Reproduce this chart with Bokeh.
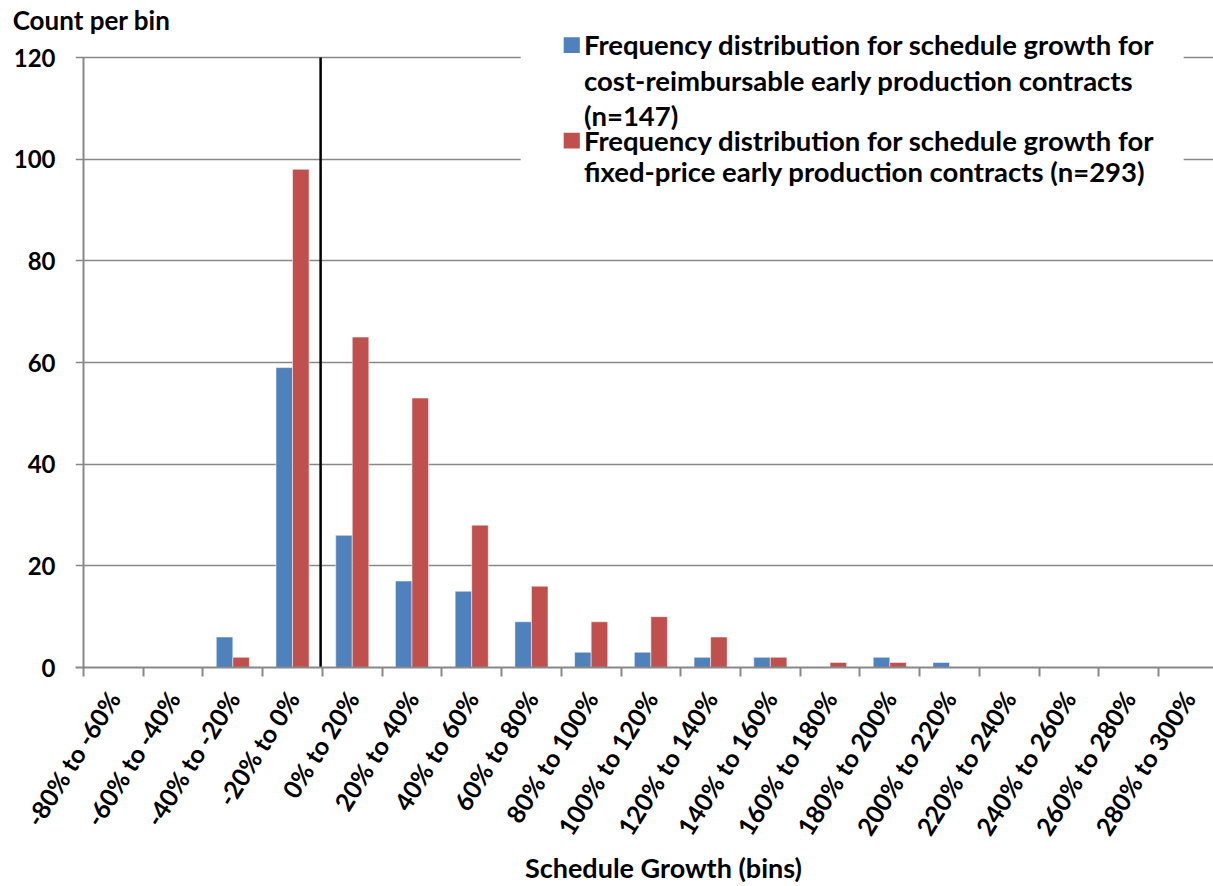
import numpy as np
from bokeh.plotting import figure
from bokeh.models import FixedTicker, LinearAxis, Range1d
from bokeh.core.properties import value
from bokeh.embed import file_html
from bokeh.resources import INLINE

bins = ["-80% to -60%", "-60% to -40%", "-40% to -20%", "-20% to 0%", "0% to 20%",
        "20% to 40%", "40% to 60%", "60% to 80%", "80% to 100%", "100% to 120%",
        "120% to 140%", "140% to 160%", "160% to 180%", "180% to 200%", "200% to 220%",
        "220% to 240%", "240% to 260%", "260% to 280%", "280% to 300%"]
cost_reimbursable = [0, 0, 6, 59, 26, 17, 15, 9, 3, 3, 2, 2, 0, 2, 1, 0, 0, 0, 0]
fixed_price = [0, 0, 2, 98, 65, 53, 28, 16, 9, 10, 6, 2, 1, 1, 0, 0, 0, 0, 0]
y_ticks = [0, 20, 40, 60, 80, 100, 120]
y_title = "Count per bin"
x_title = "Schedule Growth (bins)"
legend_cost = ["Frequency distribution for schedule growth for",
               "cost-reimbursable early production contracts",
               "(n=147)"]
legend_fixed = ["Frequency distribution for schedule growth for",
                "fixed-price early production contracts (n=293)"]
zero_line_x = 3.97  # boundary between "-20% to 0%" and "0% to 20%"

BLUE = "#4F81BD"
RED = "#C0504D"
GRID = "#888888"
FONT = "Lato"

W, H = 1213, 886
TOP = 33
n = len(bins)
centers = np.arange(n) + 0.5
bar_w = 0.277

p = figure(width=W, height=H, output_backend="svg", toolbar_location=None,
           x_range=Range1d(-0.134, 18.92), y_range=Range1d(0, (667 - TOP) / 5.0833),
           min_border_left=75, min_border_right=0, min_border_top=TOP,
           min_border_bottom=219)
p.outline_line_color = None
p.background_fill_color = "white"
p.border_fill_color = "white"

# grid
p.xgrid.visible = False
p.ygrid.grid_line_color = GRID
p.ygrid.grid_line_width = 1.5

# y axis
p.yaxis.ticker = FixedTicker(ticks=y_ticks)
p.yaxis.axis_line_color = None
p.yaxis.major_tick_line_color = None
p.yaxis.minor_tick_line_color = None
p.yaxis.major_tick_out = 0
p.yaxis.major_tick_in = 0
p.yaxis.major_label_standoff = 20
p.yaxis.major_label_text_font = FONT
p.yaxis.major_label_text_font_style = "bold"
p.yaxis.major_label_text_font_size = "24px"
p.yaxis.major_label_text_color = "black"

# x axis
p.xaxis.ticker = FixedTicker(ticks=list(centers), minor_ticks=list(range(n + 1)))
p.xaxis.major_label_overrides = {float(c): b for c, b in zip(centers, bins)}
p.xaxis.major_label_orientation = 1.01
p.xaxis.axis_line_color = GRID
p.xaxis.axis_line_width = 2
p.xaxis.major_tick_line_color = None
p.xaxis.major_tick_out = 0
p.xaxis.major_tick_in = 0
p.xaxis.minor_tick_line_color = GRID
p.xaxis.minor_tick_line_width = 2
p.xaxis.minor_tick_out = 9
p.xaxis.minor_tick_in = 0
p.xaxis.major_label_standoff = 17
p.xaxis.major_label_text_font = FONT
p.xaxis.major_label_text_font_style = "bold"
p.xaxis.major_label_text_font_size = "25px"
p.xaxis.major_label_text_color = "black"


def title_axis(pos, text, standoff, size):
    ax = LinearAxis(ticker=FixedTicker(ticks=[pos]),
                    major_label_overrides={pos: text},
                    axis_line_color=None, major_tick_line_color=None,
                    minor_tick_line_color=None, major_tick_out=0, major_tick_in=0,
                    minor_tick_out=0, minor_tick_in=0,
                    major_label_standoff=standoff,
                    major_label_text_font=FONT, major_label_text_font_style="bold",
                    major_label_text_font_size=size, major_label_text_color="black")
    return ax


# axis titles placed like the reference (y title top-left, x title below labels)
p.add_layout(title_axis(0.134, y_title, -2, "26px"), "above")
p.add_layout(title_axis(9.71, x_title, -1, "27px"), "below")

# y axis line (ends at 120)
p.segment(x0=[0], y0=[0], x1=[0], y1=[y_ticks[-1]], line_color=GRID, line_width=2)

# bars
p.vbar(x=centers - bar_w / 2, top=cost_reimbursable, width=bar_w, bottom=0,
       fill_color=BLUE, line_color="white", line_alpha=0.5, line_width=1)
p.vbar(x=centers + bar_w / 2, top=fixed_price, width=bar_w, bottom=0,
       fill_color=RED, line_color="white", line_alpha=0.5, line_width=1)

# zero line
p.segment(x0=[zero_line_x], y0=[0], x1=[zero_line_x], y1=[y_ticks[-1]],
          line_color="black", line_width=2.5)

# legend (white box + swatches + wrapped text)
p.quad(left=[7.32], right=[18.42], bottom=[93.4], top=[125.7],
       fill_color="white", line_color=None)
p.quad(left=[8.04], right=[8.31], bottom=[120.9], top=[124.0],
       fill_color=BLUE, line_color=None)
p.quad(left=[8.04], right=[8.31], bottom=[102.1], top=[105.2],
       fill_color=RED, line_color=None)
p.text(x=[8.38] * 3, y=[122.5, 115.41, 108.66], text=legend_cost,
       text_font=value(FONT), text_font_style="bold", text_font_size="27.5px",
       text_baseline="middle", text_align="left", text_color="black")
p.text(x=[8.38] * 2, y=[103.6, 97.57], text=legend_fixed,
       text_font=value(FONT), text_font_style="bold", text_font_size="27.5px",
       text_baseline="middle", text_align="left", text_color="black")

open("out.html", "w").write(file_html(p, INLINE))
